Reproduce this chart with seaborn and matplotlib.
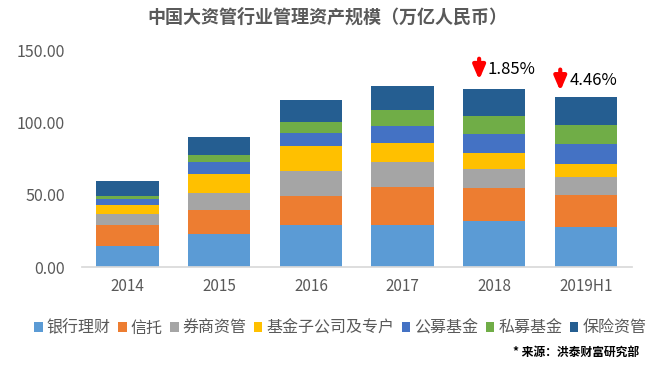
import numpy as np
import pandas as pd
import matplotlib
matplotlib.use("Agg")
import matplotlib.pyplot as plt
import seaborn as sns
from matplotlib.patches import Patch

years = ["2014", "2015", "2016", "2017", "2018", "2019H1"]
categories = ["银行理财", "信托", "券商资管", "基金子公司及专户", "公募基金", "私募基金", "保险资管"]
colors = ["#5B9BD5", "#ED7D31", "#A5A5A5", "#FFC000", "#4472C4", "#70AD47", "#255E91"]

bank = [14.4, 23.1, 29.0, 29.0, 31.7, 27.6]
trust = [14.6, 16.3, 20.3, 26.6, 22.9, 22.4]
broker = [7.6, 12.0, 17.1, 17.1, 13.2, 12.5]
fund_sub = [6.2, 13.0, 17.6, 13.2, 11.2, 8.8]
public_fund = [4.2, 8.3, 8.8, 11.8, 13.1, 13.9]
private_fund = [2.3, 4.8, 7.7, 11.1, 12.6, 13.2]
insurance = [10.2, 12.5, 15.2, 16.7, 18.7, 19.4]

changes = ["1.85%", "4.46%"]

sns.set_theme(style="white")
plt.rcParams['font.family'] = ['Noto Sans CJK SC', 'DejaVu Sans']

df = pd.DataFrame({"year": years})
series = [bank, trust, broker, fund_sub, public_fund, private_fund, insurance]
for name, vals in zip(categories, series):
    df[name] = vals
cum = df[categories].cumsum(axis=1)

fig = plt.figure(figsize=(6.54, 3.66), dpi=100)
ax = fig.add_axes([0.125, 0.27, 0.841, 0.593])

# stacked look: draw cumulative totals from the top down
for name, col in reversed(list(zip(categories, colors))):
    sns.barplot(x=df["year"], y=cum[name], color=col, width=0.68,
                saturation=1, ax=ax, edgecolor="none")

ax.set_ylim(0, 150)
ax.set_yticks([0, 50, 100, 150])
ax.set_yticklabels([f"{v:.2f}" for v in [0, 50, 100, 150]])
ax.set_xlim(-0.5, 5.5)
ax.set_xlabel("")
ax.set_ylabel("")
ax.tick_params(axis="both", colors="#595959", length=0)
ax.tick_params(axis="x", pad=8, labelsize=11)
ax.tick_params(axis="y", pad=12, labelsize=11.5)
for s in ["top", "right", "left"]:
    ax.spines[s].set_visible(False)
ax.spines["bottom"].set_color("#D9D9D9")

# decline arrows
for dx, ya, yb, tx, ty, txt in [
        (4 - 0.165, 146.0, 127.5, 4 - 0.07, 136.6, changes[0]),
        (5 - 0.28, 138.5, 119.8, 5 - 0.18, 129.0, changes[1])]:
    ax.annotate("", xy=(dx, yb), xytext=(dx, ya),
                arrowprops=dict(arrowstyle="-|>,head_width=0.3,head_length=0.7",
                                color="#FF0000", lw=3), annotation_clip=False)
    ax.text(tx, ty, txt, fontsize=12, color="black", va="center", ha="left")

fig.text(0.5, 0.953, "中国大资管行业管理资产规模（万亿人民币）", ha="center", va="center",
         fontsize=13, fontweight="bold", color="#595959")

handles = [Patch(facecolor=c, edgecolor="none") for c in colors]
fig.legend(handles, categories, loc="center", bbox_to_anchor=(0.52, 0.103), ncol=7,
           frameon=False, fontsize=11.5, handlelength=0.55, handleheight=0.55,
           handletextpad=0.25, columnspacing=0.45, labelcolor="#595959")

fig.text(0.978, 0.038, "* 来源：洪泰财富研究部", ha="right", va="center",
         fontsize=8.5, fontweight="bold", color="black")

fig.savefig("out.png", dpi=100)
